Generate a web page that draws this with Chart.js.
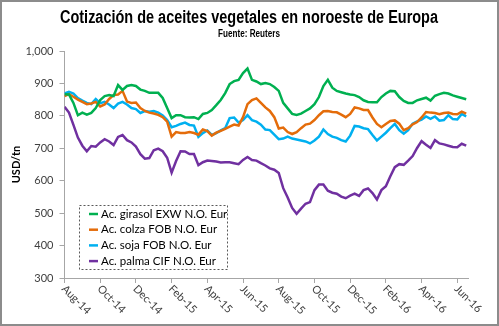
<!DOCTYPE html>
<html>
<head>
<meta charset="utf-8">
<script src="https://cdn.jsdelivr.net/npm/chart.js@4/dist/chart.umd.min.js"></script>
<style>
  html, body { margin: 0; padding: 0; background: #fff; }
  #wrap { width: 499px; height: 326px; }
</style>
</head>
<body>
<div id="wrap"><canvas id="chart" width="499" height="326"></canvas></div>
<script>
const TITLE = 'Cotización de aceites vegetales en noroeste de Europa';
const SUBTITLE = 'Fuente: Reuters';
const Y_TITLE = 'USD/tn';

// x axis is in months since Aug-14, one point per week (quarter month)
const TICK_MONTHS = [0, 2, 4, 6, 8, 10, 12, 14, 16, 18, 20, 22];
const TICK_LABELS = ['Aug-14', 'Oct-14', 'Dec-14', 'Feb-15', 'Apr-15', 'Jun-15',
                     'Aug-15', 'Oct-15', 'Dec-15', 'Feb-16', 'Apr-16', 'Jun-16'];
const WEEK_STEP = 0.25;

const SERIES_NAMES = ['Ac. girasol EXW N.O. Eur', 'Ac. colza FOB N.O. Eur',
                      'Ac. soja FOB N.O. Eur', 'Ac. palma CIF N.O. Eur'];
const SERIES_COLORS = ['#00b050', '#e46c0a', '#00b0f0', '#7030a0'];

const GIRASOL = [867, 866, 840, 802, 810, 804, 809, 824, 849, 861,
                 864, 861, 895, 880, 892, 895, 892, 881, 877, 871,
                 871, 871, 855, 824, 793, 802, 802, 796, 795, 796,
                 790, 806, 809, 818, 833, 849, 870, 898, 907, 911,
                 932, 946, 911, 906, 898, 901, 898, 889, 877, 840,
                 823, 806, 803, 807, 815, 823, 836, 858, 892, 911,
                 887, 877, 873, 869, 866, 864, 858, 848, 843, 842,
                 842, 858, 869, 877, 876, 858, 846, 840, 840, 848,
                 852, 856, 847, 862, 867, 871, 869, 863, 859, 855, 851];
const COLZA = [861, 867, 859, 850, 843, 836, 838, 843, 829, 835,
               852, 864, 866, 877, 844, 840, 841, 824, 815, 810,
               807, 803, 796, 782, 736, 750, 747, 747, 750, 747,
               742, 758, 753, 739, 748, 754, 760, 767, 773, 770,
               796, 836, 849, 854, 840, 826, 815, 796, 761, 764,
               750, 744, 750, 762, 773, 776, 787, 802, 814, 815,
               812, 811, 804, 796, 806, 826, 823, 818, 818, 795,
               775, 765, 775, 784, 786, 776, 756, 762, 774, 781,
               795, 812, 810, 809, 805, 809, 810, 806, 805, 813, 807];
const SOJA = [869, 874, 869, 855, 847, 840, 836, 852, 839, 843,
              835, 824, 838, 843, 835, 824, 821, 809, 815, 813,
              815, 810, 801, 787, 765, 769, 775, 779, 772, 770,
              735, 747, 755, 741, 747, 755, 762, 793, 795, 779,
              787, 802, 787, 782, 773, 758, 756, 742, 728, 730,
              736, 730, 727, 724, 721, 715, 724, 736, 758, 744,
              736, 732, 725, 721, 739, 769, 767, 762, 759, 741,
              724, 736, 748, 762, 775, 756, 745, 756, 776, 783,
              788, 798, 791, 798, 785, 787, 802, 790, 789, 806, 798];
const PALMA = [828, 810, 772, 733, 708, 691, 707, 705, 718, 728,
               721, 710, 735, 741, 725, 718, 705, 682, 668, 670,
               694, 699, 691, 671, 625, 661, 691, 690, 682, 682,
               648, 657, 662, 661, 659, 656, 657, 657, 654, 651,
               664, 673, 664, 662, 654, 647, 638, 634, 624, 577,
               548, 516, 498, 514, 529, 534, 571, 588, 588, 569,
               563, 560, 551, 546, 554, 560, 553, 571, 576, 562,
               542, 571, 583, 614, 642, 651, 649, 662, 676, 701,
               722, 711, 701, 725, 715, 712, 708, 704, 703, 714, 708];

const AXIS_COLOR = '#a6a6a6';
const TEXT_COLOR = '#404040';
const FONT = 'Lato, "Open Sans", sans-serif';
const NARROW = '"Liberation Sans Narrow", "Arial Narrow", sans-serif';

const toPoints = (vals) => vals.map((v, i) => ({ x: i * WEEK_STEP, y: v }));

const datasets = [GIRASOL, COLZA, SOJA, PALMA].map((vals, k) => ({
    label: SERIES_NAMES[k],
    data: toPoints(vals),
    borderColor: SERIES_COLORS[k],
    backgroundColor: SERIES_COLORS[k],
    borderWidth: 2.5,
    pointRadius: 0,
    tension: 0,
}));

// condensed text squeezed to a given width, centred on cx
function squeezedText(ctx, text, cx, y, width) {
    const w = ctx.measureText(text).width;
    const k = Math.min(1, width / w);
    ctx.save();
    ctx.translate(cx, y);
    ctx.scale(k, 1);
    ctx.fillText(text, 0, 0);
    ctx.restore();
}

// Title, frame, slanted month labels and boxed legend
const decor = {
    id: 'decor',
    beforeDraw(chart) {
        const ctx = chart.ctx;
        ctx.save();
        ctx.fillStyle = '#fff';
        ctx.fillRect(0, 0, chart.width, chart.height);
        ctx.restore();
    },
    afterDraw(chart) {
        const ctx = chart.ctx;
        ctx.save();

        // frame
        ctx.strokeStyle = '#8c8c8c';
        ctx.lineWidth = 2;
        ctx.strokeRect(1, 1, chart.width - 2, chart.height - 2);

        // titles
        ctx.fillStyle = '#000';
        ctx.textAlign = 'center';
        ctx.textBaseline = 'alphabetic';
        ctx.font = 'bold 18px ' + NARROW;
        squeezedText(ctx, TITLE, 249, 23, 378);
        ctx.font = 'bold 10px ' + NARROW;
        squeezedText(ctx, SUBTITLE, 249, 37, 62);

        // month labels, slanted down to the right
        const xs = chart.scales.x;
        ctx.font = '11px ' + FONT;
        ctx.fillStyle = TEXT_COLOR;
        ctx.textAlign = 'left';
        ctx.textBaseline = 'middle';
        TICK_MONTHS.forEach((m, i) => {
            const px = xs.getPixelForValue(m);
            ctx.save();
            ctx.translate(px - 1, xs.top + 9);
            ctx.rotate(Math.PI / 4);
            ctx.fillText(TICK_LABELS[i], 0, 0);
            ctx.restore();
        });

        // legend box
        ctx.setLineDash([2, 2]);
        ctx.strokeStyle = '#595959';
        ctx.lineWidth = 1;
        ctx.strokeRect(79.5, 205.5, 148, 64);
        ctx.setLineDash([]);
        ctx.font = '11.5px ' + FONT;
        chart.data.datasets.forEach((ds, k) => {
            const y = 214 + k * 15.7;
            ctx.strokeStyle = ds.borderColor;
            ctx.lineWidth = 2.5;
            ctx.beginPath();
            ctx.moveTo(89, y);
            ctx.lineTo(98, y);
            ctx.stroke();
            ctx.fillStyle = '#000';
            ctx.fillText(ds.label, 101, y);
        });

        ctx.restore();
    }
};

new Chart(document.getElementById('chart'), {
    type: 'line',
    data: { datasets },
    options: {
        responsive: false,
        animation: false,
        layout: { padding: { top: 51, right: 31, bottom: 0, left: 0 } },
        scales: {
            x: {
                type: 'linear',
                min: 0,
                max: 22.6,
                afterBuildTicks: (s) => { s.ticks = TICK_MONTHS.map(v => ({ value: v })); },
                afterFit: (s) => { s.height = 48; },
                ticks: { display: false },
                grid: { drawOnChartArea: false, tickLength: 5, color: AXIS_COLOR },
                border: { color: AXIS_COLOR },
            },
            y: {
                min: 300,
                max: 1000,
                afterFit: (s) => { s.width = 64.5; },
                ticks: {
                    stepSize: 100,
                    padding: 6,
                    color: TEXT_COLOR,
                    font: { family: FONT, size: 11 },
                    callback: (v) => v.toLocaleString('en-US'),
                },
                grid: { drawOnChartArea: false, tickLength: 5, color: AXIS_COLOR },
                border: { color: AXIS_COLOR },
                title: {
                    display: true,
                    text: Y_TITLE,
                    color: '#000',
                    font: { family: FONT, size: 11, weight: 'bold' },
                    padding: { top: 10, bottom: 0 },
                },
            },
        },
        plugins: {
            legend: { display: false },
            tooltip: { enabled: false },
        },
    },
    plugins: [decor],
});
</script>
</body>
</html>
